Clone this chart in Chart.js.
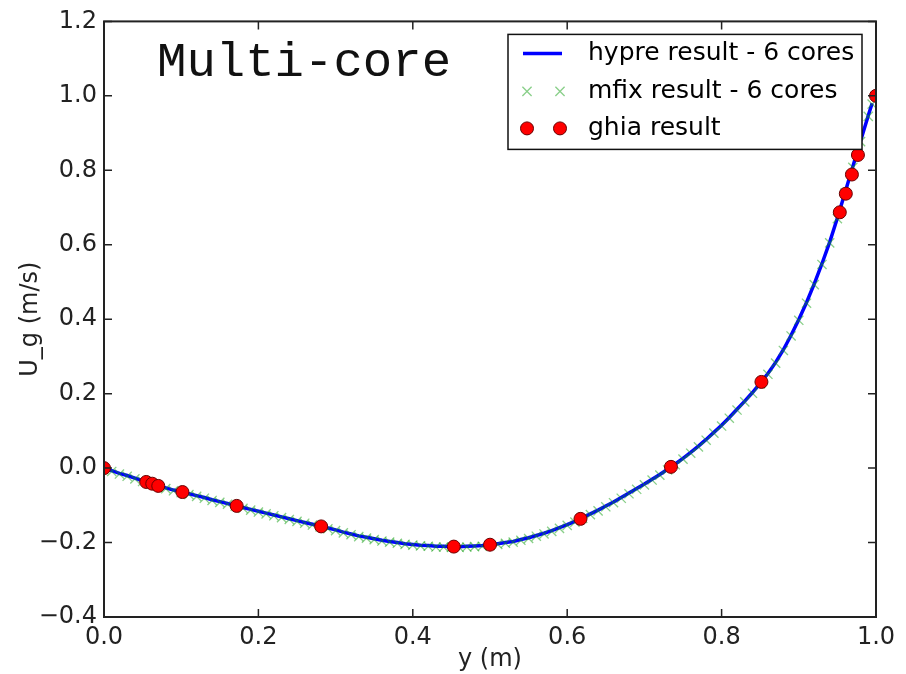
<!DOCTYPE html>
<html>
<head>
<meta charset="utf-8">
<script src="https://cdn.jsdelivr.net/npm/chart.js@4"></script>
<style>
  body { margin: 0; background: #fff; }
  #wrap { width: 906px; height: 674px; position: relative; }
</style>
</head>
<body>
<div id="wrap"><canvas id="chart"></canvas></div>
<script>
// y position along the centerline (m)
const yGrid = [
  0.00, 0.01, 0.02, 0.03, 0.04, 0.05, 0.06, 0.07, 0.08, 0.09,
  0.10, 0.11, 0.12, 0.13, 0.14, 0.15, 0.16, 0.17, 0.18, 0.19,
  0.20, 0.21, 0.22, 0.23, 0.24, 0.25, 0.26, 0.27, 0.28, 0.29,
  0.30, 0.31, 0.32, 0.33, 0.34, 0.35, 0.36, 0.37, 0.38, 0.39,
  0.40, 0.41, 0.42, 0.43, 0.44, 0.45, 0.46, 0.47, 0.48, 0.49,
  0.50, 0.51, 0.52, 0.53, 0.54, 0.55, 0.56, 0.57, 0.58, 0.59,
  0.60, 0.61, 0.62, 0.63, 0.64, 0.65, 0.66, 0.67, 0.68, 0.69,
  0.70, 0.71, 0.72, 0.73, 0.74, 0.75, 0.76, 0.77, 0.78, 0.79,
  0.80, 0.81, 0.82, 0.83, 0.84, 0.85, 0.86, 0.87, 0.88, 0.89,
  0.90, 0.91, 0.92, 0.93, 0.94, 0.95, 0.96, 0.97, 0.98, 0.99, 0.995
];

// hypre result - 6 cores
const hypreU = [
  0.000, -0.007, -0.014, -0.020, -0.027, -0.034, -0.041, -0.047, -0.053, -0.059,
  -0.064, -0.069, -0.074, -0.079, -0.085, -0.090, -0.095, -0.100, -0.106, -0.111,
  -0.116, -0.121, -0.126, -0.131, -0.136, -0.141, -0.146, -0.151, -0.156, -0.161,
  -0.166, -0.172, -0.177, -0.182, -0.186, -0.190, -0.194, -0.197, -0.200, -0.203,
  -0.205, -0.207, -0.208, -0.210, -0.210, -0.211, -0.211, -0.210, -0.209, -0.208,
  -0.206, -0.203, -0.200, -0.197, -0.192, -0.187, -0.181, -0.175, -0.168, -0.160,
  -0.152, -0.143, -0.133, -0.123, -0.113, -0.102, -0.091, -0.079, -0.067, -0.055,
  -0.043, -0.030, -0.017, -0.003, 0.011, 0.026, 0.042, 0.059, 0.077, 0.096,
  0.115, 0.136, 0.158, 0.180, 0.203, 0.228, 0.254, 0.284, 0.318, 0.357,
  0.399, 0.445, 0.495, 0.549, 0.607, 0.672, 0.741, 0.810, 0.879, 0.947, 0.980
];

// mfix result - 6 cores
const mfixU = [
  0.000, -0.009, -0.016, -0.022, -0.029, -0.036, -0.043, -0.049, -0.055, -0.061,
  -0.066, -0.071, -0.076, -0.081, -0.087, -0.092, -0.097, -0.102, -0.108, -0.113,
  -0.118, -0.123, -0.128, -0.133, -0.138, -0.143, -0.148, -0.153, -0.158, -0.163,
  -0.168, -0.174, -0.179, -0.184, -0.188, -0.192, -0.196, -0.199, -0.202, -0.205,
  -0.207, -0.209, -0.210, -0.212, -0.212, -0.213, -0.213, -0.212, -0.211, -0.210,
  -0.208, -0.205, -0.202, -0.199, -0.194, -0.189, -0.183, -0.177, -0.170, -0.162,
  -0.154, -0.145, -0.135, -0.125, -0.115, -0.104, -0.093, -0.081, -0.069, -0.057,
  -0.045, -0.032, -0.019, -0.005, 0.009, 0.024, 0.040, 0.057, 0.075, 0.094,
  0.113, 0.134, 0.156, 0.178, 0.201, 0.226, 0.252, 0.282, 0.316, 0.355,
  0.397, 0.443, 0.493, 0.547, 0.605, 0.670, 0.739, 0.808, 0.877, 0.945, 0.978
];

// ghia result
const ghiaY = [0.0, 0.0547, 0.0625, 0.0703, 0.1016, 0.1719, 0.2813, 0.4531, 0.5,
  0.6172, 0.7344, 0.8516, 0.9531, 0.9609, 0.9688, 0.9766, 1.0];
const ghiaU = [0.0, -0.0372, -0.0419, -0.0478, -0.0643, -0.1015, -0.1566, -0.2109, -0.2058,
  -0.1364, 0.0033, 0.2315, 0.6872, 0.7372, 0.7887, 0.8412, 1.0];

const seriesNames = ['hypre result - 6 cores', 'mfix result - 6 cores', 'ghia result'];
const xTicks = [0.0, 0.2, 0.4, 0.6, 0.8, 1.0];
const yTicks = [-0.4, -0.2, 0.0, 0.2, 0.4, 0.6, 0.8, 1.0, 1.2];

const FONT = "'DejaVu Sans', sans-serif";
const pts = (xs, ys) => xs.map((x, i) => ({ x: x, y: ys[i] }));
const fmt = v => v.toFixed(1).replace('-', '\u2212');

// frame, inward ticks, boxed legend and the panel label
const decor = {
  id: 'decor',
  afterDraw(chart) {
    const ctx = chart.ctx;
    const a = chart.chartArea;
    const xs = chart.scales.x, ys = chart.scales.y;
    const tl = 8;
    ctx.save();
    ctx.strokeStyle = '#222';
    ctx.lineWidth = 1.5;
    ctx.beginPath();
    xTicks.forEach(v => {
      const px = xs.getPixelForValue(v);
      ctx.moveTo(px, a.bottom); ctx.lineTo(px, a.bottom - tl);
      ctx.moveTo(px, a.top); ctx.lineTo(px, a.top + tl);
    });
    yTicks.forEach(v => {
      const py = ys.getPixelForValue(v);
      ctx.moveTo(a.left, py); ctx.lineTo(a.left + tl, py);
      ctx.moveTo(a.right, py); ctx.lineTo(a.right - tl, py);
    });
    ctx.stroke();
    ctx.lineWidth = 2;
    ctx.strokeRect(a.left, a.top, a.right - a.left, a.bottom - a.top);

    // legend
    const bx = a.right - 368, by = a.top + 13, bw = 354, bh = 115;
    ctx.fillStyle = '#fff';
    ctx.fillRect(bx, by, bw, bh);
    ctx.lineWidth = 1.5;
    ctx.strokeStyle = '#111';
    ctx.strokeRect(bx, by, bw, bh);
    const ds = chart.data.datasets;
    const rowY = [by + 19, by + 57, by + 94];
    ctx.font = '25px ' + FONT;
    ctx.textBaseline = 'middle';
    ctx.textAlign = 'left';
    seriesNames.forEach((name, i) => {
      const ry = rowY[i];
      const d = ds[i];
      if (i === 0) {
        ctx.strokeStyle = d.borderColor;
        ctx.lineWidth = d.borderWidth;
        ctx.beginPath();
        ctx.moveTo(bx + 15, ry); ctx.lineTo(bx + 54, ry);
        ctx.stroke();
      } else {
        ctx.fillStyle = d.backgroundColor;
        ctx.strokeStyle = d.borderColor;
        ctx.lineWidth = d.borderWidth;
        [bx + 19, bx + 52].forEach(mx => {
          ctx.beginPath();
          if (d.pointStyle === 'circle') {
            ctx.arc(mx, ry, d.pointRadius, 0, Math.PI * 2);
            ctx.fill(); ctx.stroke();
          } else {
            const r = d.pointRadius * Math.SQRT1_2;
            ctx.moveTo(mx - r, ry - r); ctx.lineTo(mx + r, ry + r);
            ctx.moveTo(mx + r, ry - r); ctx.lineTo(mx - r, ry + r);
            ctx.stroke();
          }
        });
      }
      ctx.fillStyle = '#000';
      ctx.fillText(name, bx + 80, ry);
    });

    ctx.font = "49px 'Liberation Mono', monospace";
    ctx.fillStyle = '#111';
    ctx.fillText('Multi-core', 157, a.top + 42);
    ctx.restore();
  }
};

new Chart(document.getElementById('chart'), {
  type: 'scatter',
  data: {
    datasets: [{
      label: seriesNames[0],
      data: pts(yGrid, hypreU),
      showLine: true,
      borderColor: '#0000ff',
      borderWidth: 3.5,
      pointRadius: 0,
      order: 3
    }, {
      label: seriesNames[1],
      data: pts(yGrid, mfixU),
      showLine: false,
      pointStyle: 'crossRot',
      pointRadius: 6.5,
      borderWidth: 1.3,
      borderColor: 'rgba(20,160,20,0.5)',
      backgroundColor: 'rgba(20,160,20,0.5)',
      order: 2
    }, {
      label: seriesNames[2],
      data: pts(ghiaY, ghiaU),
      showLine: false,
      pointStyle: 'circle',
      pointRadius: 6.5,
      borderWidth: 1,
      borderColor: '#6a0000',
      backgroundColor: '#ff0000',
      order: 1
    }]
  },
  options: {
    responsive: true,
    maintainAspectRatio: false,
    animation: false,
    layout: { padding: { top: 18, right: 30, left: 0, bottom: 0 } },
    plugins: { legend: { display: false }, tooltip: { enabled: false } },
    scales: {
      x: {
        type: 'linear', min: 0, max: 1,
        grid: { display: false, drawTicks: false, tickLength: 0 }, border: { display: false },
        afterBuildTicks: s => { s.ticks = xTicks.map(v => ({ value: v })); },
        afterFit: s => { s.height = 57; },
        ticks: { color: '#222', padding: 6, maxRotation: 0, font: { family: FONT, size: 24 }, callback: v => fmt(v) },
        title: { display: true, text: 'y (m)', color: '#222', padding: { top: 0, bottom: 0 }, font: { family: FONT, size: 24 } }
      },
      y: {
        type: 'linear', min: -0.4, max: 1.2,
        grid: { display: false, drawTicks: false, tickLength: 0 }, border: { display: false },
        afterBuildTicks: s => { s.ticks = yTicks.map(v => ({ value: v })); },
        afterFit: s => { s.width = 104; },
        ticks: { color: '#222', padding: 7, font: { family: FONT, size: 24 }, callback: v => fmt(v) },
        title: { display: true, text: 'U_g (m/s)', color: '#222', padding: { top: 16, bottom: 0 }, font: { family: FONT, size: 24 } }
      }
    }
  },
  plugins: [decor]
});
</script>
</body>
</html>
